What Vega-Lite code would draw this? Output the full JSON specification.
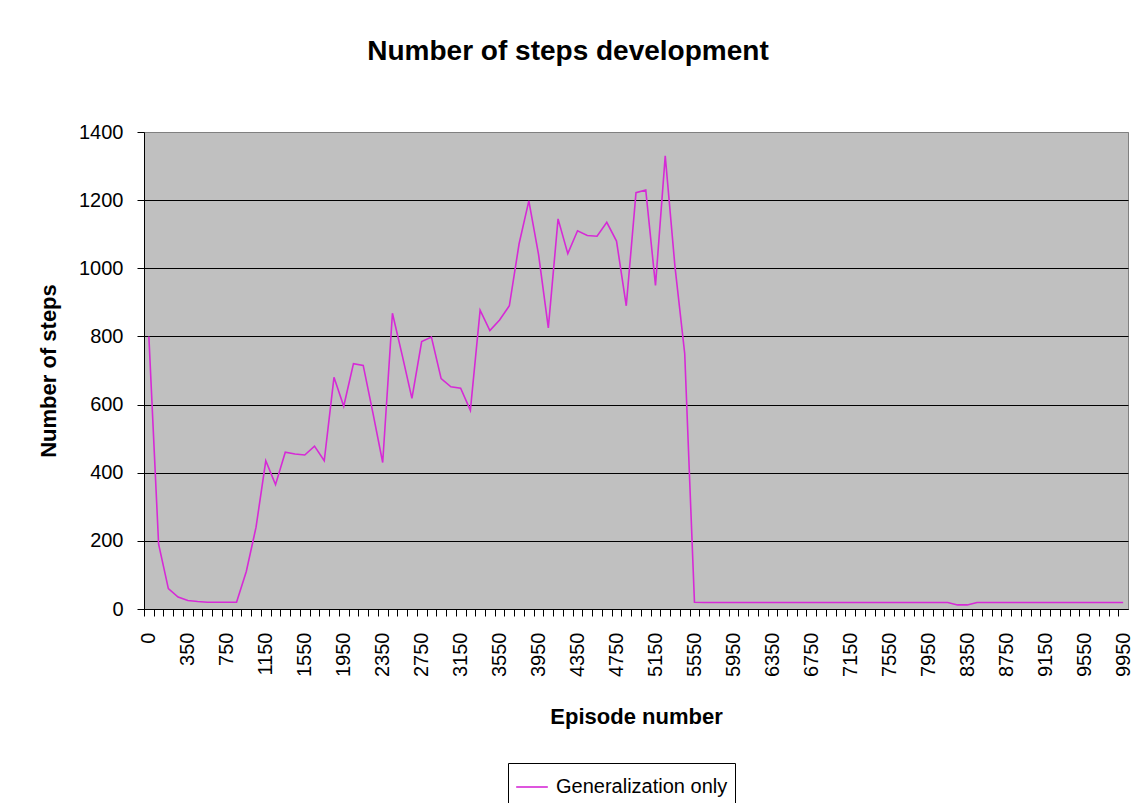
{
  "$schema": "https://vega.github.io/schema/vega-lite/v6.json",
  "width": 984,
  "height": 477,
  "autosize": {"type": "none"},
  "padding": {"left": 144, "top": 132, "right": 7, "bottom": 194},
  "background": "white",
  "title": {
    "text": "Number of steps development",
    "fontSize": 28,
    "fontWeight": "bold",
    "font": "Liberation Sans",
    "color": "black",
    "anchor": "middle",
    "frame": "group",
    "dx": -68,
    "offset": 56
  },
  "config": {
    "view": {"fill": "#C0C0C0", "stroke": "#808080", "strokeWidth": 1},
    "font": "Liberation Sans"
  },
  "data": {
    "values": [
      {"episode": 0, "steps": 800},
      {"episode": 50, "steps": 190},
      {"episode": 150, "steps": 60},
      {"episode": 250, "steps": 35},
      {"episode": 350, "steps": 25},
      {"episode": 450, "steps": 22},
      {"episode": 550, "steps": 20},
      {"episode": 650, "steps": 20},
      {"episode": 750, "steps": 20},
      {"episode": 850, "steps": 20},
      {"episode": 950, "steps": 110},
      {"episode": 1050, "steps": 240},
      {"episode": 1150, "steps": 435},
      {"episode": 1250, "steps": 365},
      {"episode": 1350, "steps": 460},
      {"episode": 1450, "steps": 455},
      {"episode": 1550, "steps": 452},
      {"episode": 1650, "steps": 478},
      {"episode": 1750, "steps": 435},
      {"episode": 1850, "steps": 680},
      {"episode": 1950, "steps": 595},
      {"episode": 2050, "steps": 720},
      {"episode": 2150, "steps": 715},
      {"episode": 2250, "steps": 575},
      {"episode": 2350, "steps": 430},
      {"episode": 2450, "steps": 868},
      {"episode": 2550, "steps": 745},
      {"episode": 2650, "steps": 618},
      {"episode": 2750, "steps": 785},
      {"episode": 2850, "steps": 798},
      {"episode": 2950, "steps": 676},
      {"episode": 3050, "steps": 652},
      {"episode": 3150, "steps": 648},
      {"episode": 3250, "steps": 583},
      {"episode": 3350, "steps": 877},
      {"episode": 3450, "steps": 817},
      {"episode": 3550, "steps": 848},
      {"episode": 3650, "steps": 890},
      {"episode": 3750, "steps": 1072},
      {"episode": 3850, "steps": 1198},
      {"episode": 3950, "steps": 1040},
      {"episode": 4050, "steps": 825},
      {"episode": 4150, "steps": 1145},
      {"episode": 4250, "steps": 1043},
      {"episode": 4350, "steps": 1110},
      {"episode": 4450, "steps": 1096},
      {"episode": 4550, "steps": 1094},
      {"episode": 4650, "steps": 1135},
      {"episode": 4750, "steps": 1080},
      {"episode": 4850, "steps": 890},
      {"episode": 4950, "steps": 1222},
      {"episode": 5050, "steps": 1230},
      {"episode": 5150, "steps": 950},
      {"episode": 5250, "steps": 1330},
      {"episode": 5350, "steps": 1005},
      {"episode": 5450, "steps": 750},
      {"episode": 5550, "steps": 20},
      {"episode": 5650, "steps": 19},
      {"episode": 5750, "steps": 19},
      {"episode": 5850, "steps": 19},
      {"episode": 5950, "steps": 19},
      {"episode": 6050, "steps": 19},
      {"episode": 6150, "steps": 19},
      {"episode": 6250, "steps": 19},
      {"episode": 6350, "steps": 19},
      {"episode": 6450, "steps": 19},
      {"episode": 6550, "steps": 19},
      {"episode": 6650, "steps": 19},
      {"episode": 6750, "steps": 19},
      {"episode": 6850, "steps": 19},
      {"episode": 6950, "steps": 19},
      {"episode": 7050, "steps": 19},
      {"episode": 7150, "steps": 19},
      {"episode": 7250, "steps": 19},
      {"episode": 7350, "steps": 19},
      {"episode": 7450, "steps": 19},
      {"episode": 7550, "steps": 19},
      {"episode": 7650, "steps": 19},
      {"episode": 7750, "steps": 19},
      {"episode": 7850, "steps": 19},
      {"episode": 7950, "steps": 19},
      {"episode": 8050, "steps": 19},
      {"episode": 8150, "steps": 19},
      {"episode": 8250, "steps": 12},
      {"episode": 8350, "steps": 12},
      {"episode": 8450, "steps": 19},
      {"episode": 8550, "steps": 19},
      {"episode": 8650, "steps": 19},
      {"episode": 8750, "steps": 19},
      {"episode": 8850, "steps": 19},
      {"episode": 8950, "steps": 19},
      {"episode": 9050, "steps": 19},
      {"episode": 9150, "steps": 19},
      {"episode": 9250, "steps": 19},
      {"episode": 9350, "steps": 19},
      {"episode": 9450, "steps": 19},
      {"episode": 9550, "steps": 19},
      {"episode": 9650, "steps": 19},
      {"episode": 9750, "steps": 19},
      {"episode": 9850, "steps": 19},
      {"episode": 9950, "steps": 19}
    ]
  },
  "mark": {"type": "line", "strokeWidth": 1.6},
  "encoding": {
    "x": {
      "field": "episode",
      "type": "ordinal",
      "scale": {"type": "point", "padding": 0.5},
      "axis": {
        "title": "Episode number",
        "titleFontSize": 22,
        "titleFontWeight": "bold",
        "titleColor": "black",
        "titlePadding": 30,
        "labelAngle": -90,
        "labelFontSize": 20,
        "labelColor": "black",
        "labelPadding": 16,
        "labelOverlap": false,
        "labelExpr": "datum.value == 0 || (datum.value + 50) % 400 == 0 ? datum.label : ''",
        "tickSize": 7,
        "tickColor": "black",
        "tickOffset": -4.87,
        "labelOffset": 4.87,
        "domainColor": "black",
        "grid": false
      }
    },
    "y": {
      "field": "steps",
      "type": "quantitative",
      "scale": {"domain": [0, 1400], "nice": false},
      "axis": {
        "title": "Number of steps",
        "titleFontSize": 22,
        "titleFontWeight": "bold",
        "titleColor": "black",
        "titlePadding": 18,
        "values": [0, 200, 400, 600, 800, 1000, 1200, 1400],
        "format": "d",
        "labelFontSize": 20,
        "labelColor": "black",
        "labelPadding": 14,
        "tickSize": 7,
        "tickColor": "black",
        "domainColor": "black",
        "grid": true,
        "gridOpacity": 1,
        "gridColor": {"condition": {"test": "datum.value == 1400", "value": "#808080"}, "value": "black"}
      }
    },
    "color": {
      "datum": "Generalization only",
      "scale": {"range": ["#D62AD6"]},
      "legend": {
        "title": null,
        "orient": "none",
        "legendX": 364,
        "legendY": 631,
        "symbolType": "stroke",
        "symbolSize": 1000,
        "symbolStrokeWidth": 1.6,
        "labelFontSize": 20,
        "labelLimit": 400,
        "labelColor": "black",
        "labelOffset": 7,
        "padding": 7,
        "strokeColor": "black",
        "fillColor": "white"
      }
    }
  }
}
